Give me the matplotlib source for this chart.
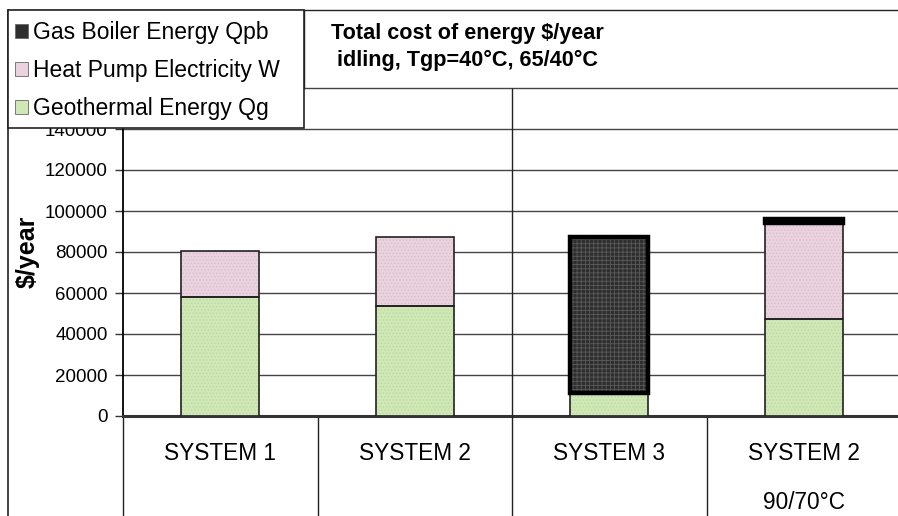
import matplotlib.pyplot as plt
from matplotlib.patches import Patch, Rectangle
from matplotlib.lines import Line2D
import numpy as np

plt.rcParams['font.family'] = ['Liberation Sans', 'DejaVu Sans']
plt.rcParams['hatch.linewidth'] = 0.6

# values ($/year)
systems = ['SYSTEM 1', 'SYSTEM 2', 'SYSTEM 3', 'SYSTEM 2\n90/70°C']
geothermal = [58000, 53700, 11000, 47300]
heat_pump = [22600, 33800, 0, 47000]
gas_boiler = [0, 0, 76200, 1600]
yticks = [0, 20000, 40000, 60000, 80000, 100000, 120000, 140000]

W, H = 898, 516
fig = plt.figure(figsize=(W / 100, H / 100), dpi=100)
ax = fig.add_axes([123 / W, 100 / H, 778 / W, 328 / H])

x = np.arange(len(systems))
geo = np.array(geothermal)
hp = np.array(heat_pump)
gas = np.array(gas_boiler)
bw = 0.4

# fill with a faint texture, then outline on top
ax.bar(x, geo, bw, color='#cfe8b5', edgecolor='#bcd9a0', hatch='.....', lw=0, zorder=3)
ax.bar(x, geo, bw, fill=False, edgecolor='#222222', lw=1.2, zorder=4)
ax.bar(x, hp, bw, bottom=geo, color='#ead3df', edgecolor='#dcbccd', hatch='.....', lw=0, zorder=3)
ax.bar(x, hp, bw, bottom=geo, fill=False, edgecolor='#222222', lw=1.2, zorder=4)
has_gas = gas > 0
ax.bar(x[has_gas], gas[has_gas], bw, bottom=(geo + hp)[has_gas], color='#2e2e2e',
       edgecolor='#5a5a5a', hatch='++++', lw=0, zorder=3)
ax.bar(x[has_gas], gas[has_gas], bw, bottom=(geo + hp)[has_gas], fill=False,
       edgecolor='black', lw=3.2, zorder=4)

ax.set_xlim(-0.5, 3.5)
ax.set_ylim(0, 160000)
ax.set_yticks(yticks)
ax.tick_params(axis='y', labelsize=13.5, length=6, width=1, color='#333333', pad=5)
ax.yaxis.grid(True, color='#444444', lw=1, zorder=0)
ax.set_axisbelow(True)

ax.set_xticks(x)
ax.set_xticklabels(systems, fontsize=16.3, linespacing=2.4, va='top')
ax.tick_params(axis='x', length=0, pad=19)

for side in ['top', 'right']:
    ax.spines[side].set_color('#444444')
    ax.spines[side].set_linewidth(1)
ax.spines['left'].set_linewidth(1.3)
ax.spines['bottom'].set_linewidth(2.2)
ax.spines['bottom'].set_color('#333333')

# category separators below the axis, the middle one runs to the top
xt = ax.get_xaxis_transform()
bot = -100 / 328
ax.vlines([-0.5, 0.5, 2.5], bot, 0, color='#222222', lw=1, transform=xt, clip_on=False)
ax.vlines([1.5], bot, 1, color='#222222', lw=1, transform=xt, clip_on=False, zorder=5)

ax.set_ylabel(r'\$/year', fontsize=18, fontweight='bold', labelpad=0)
ax.yaxis.set_label_coords(-83 / 778, 0.5)


def fx(px):
    return px / W


def fy(py):
    return 1 - py / H


# outer frame and title box
fig.add_artist(Line2D([fx(8), 1], [fy(10), fy(10)], color='#222222', lw=1))
fig.add_artist(Line2D([fx(8), fx(8)], [fy(10), 0], color='#222222', lw=1.2))
fig.add_artist(Line2D([fx(304), fx(304)], [fy(10), fy(88)], color='#222222', lw=1))
fig.add_artist(Rectangle((fx(8), fy(128)), fx(304) - fx(8), fy(10) - fy(128),
                         facecolor='white', edgecolor='#222222', lw=1.2, zorder=5))

fig.text(fx(331), fy(47), 'Total cost of energy \\$/year\n idling, Tgp=40°C, 65/40°C',
         fontsize=15.6, fontweight='bold', va='center', ha='left', linespacing=1.4)

handles = [
    Patch(facecolor='#2e2e2e', edgecolor='#666666', lw=0.6),
    Patch(facecolor='#ead3df', edgecolor='#666666', lw=0.6),
    Patch(facecolor='#cfe8b5', edgecolor='#666666', lw=0.6),
]
labels = ['Gas Boiler Energy Qpb', 'Heat Pump Electricity W', 'Geothermal Energy Qg']
leg = fig.legend(handles, labels, loc='upper left', bbox_to_anchor=(fx(15), fy(21)),
                 frameon=False, fontsize=16.5, handlelength=0.55, handleheight=0.55,
                 handletextpad=0.25, labelspacing=0.66, borderpad=0, borderaxespad=0)
leg.set_zorder(6)

fig.savefig('out.png', dpi=100)
